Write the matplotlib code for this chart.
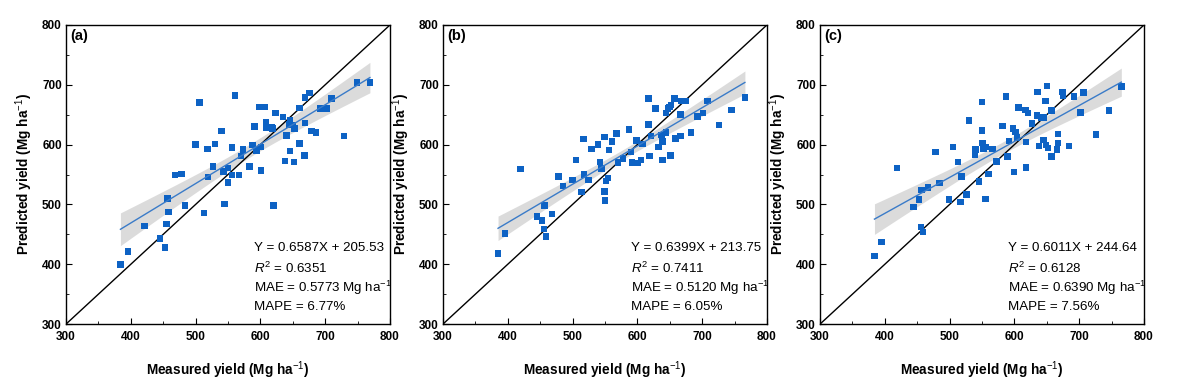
import numpy as np
import matplotlib
matplotlib.use("Agg")
import matplotlib.pyplot as plt
from matplotlib.ticker import MultipleLocator

plt.rcParams['font.family'] = ['Liberation Sans', 'DejaVu Sans']
plt.rcParams['mathtext.fontset'] = 'custom'
plt.rcParams['mathtext.rm'] = 'Liberation Sans'
plt.rcParams['mathtext.it'] = 'Liberation Sans:italic'
plt.rcParams['mathtext.bf'] = 'Liberation Sans:bold'

# measured / predicted yields
meas_a = [384, 396, 421, 445, 453, 455, 458, 457, 484, 468, 478, 513, 519, 527, 543, 545,
          550, 550, 556, 567, 583, 601, 620, 500, 518, 530, 540, 556, 506, 561, 573, 570,
          588, 591, 594, 601, 599, 606, 609, 609, 619, 623, 618, 635, 640, 646, 650, 653,
          646, 638, 652, 660, 660, 668, 669, 669, 676, 679, 686, 693, 702, 710, 729, 749,
          769, 645]
pred_a = [400, 421, 464, 443, 428, 467, 487, 510, 498, 549, 551, 486, 546, 563, 555, 501,
          537, 561, 549, 549, 563, 557, 498, 600, 593, 601, 623, 595, 670, 682, 592, 581,
          599, 630, 590, 596, 663, 663, 629, 637, 627, 653, 629, 646, 615, 641, 633, 627,
          589, 573, 571, 602, 661, 582, 636, 679, 686, 623, 620, 660, 660, 677, 614, 704,
          704, 634]

meas_b = [385, 396, 420, 445, 453, 456, 459, 457, 468, 478, 485, 500, 505, 514, 518, 525,
          517, 529, 539, 542, 545, 549, 549, 550, 552, 555, 556, 561, 568, 570, 578, 587,
          590, 592, 600, 599, 606, 608, 617, 617, 619, 621, 628, 633, 637, 639, 639, 644,
          644, 647, 651, 652, 659, 657, 667, 667, 668, 675, 683, 693, 701, 708, 726, 745,
          766, 650]
pred_b = [418, 451, 559, 480, 473, 459, 446, 498, 484, 547, 531, 541, 574, 521, 550, 541,
          609, 593, 600, 571, 560, 613, 522, 507, 539, 544, 591, 605, 619, 570, 577, 625,
          588, 570, 569, 607, 574, 601, 634, 677, 581, 614, 660, 596, 616, 574, 605, 620,
          653, 660, 582, 666, 610, 677, 614, 650, 673, 673, 620, 647, 653, 673, 633, 658,
          679, 663]

meas_c = [384, 395, 419, 444, 453, 456, 459, 457, 467, 484, 478, 499, 505, 513, 517, 518,
          526, 530, 539, 540, 545, 550, 550, 551, 552, 555, 556, 560, 566, 572, 582, 587,
          589, 592, 599, 598, 602, 604, 606, 617, 618, 618, 621, 627, 635, 638, 636, 641,
          645, 646, 648, 650, 649, 652, 657, 657, 666, 667, 667, 674, 675, 684, 692, 702,
          707, 726, 746, 765]
pred_c = [414, 437, 561, 496, 508, 462, 454, 524, 528, 536, 588, 508, 596, 571, 504, 547,
          517, 640, 583, 592, 538, 671, 624, 603, 593, 509, 596, 551, 593, 572, 631, 680,
          580, 606, 554, 627, 621, 612, 662, 658, 604, 562, 653, 635, 649, 598, 688, 645,
          608, 645, 673, 698, 599, 594, 580, 657, 592, 618, 603, 688, 681, 598, 680, 654,
          687, 617, 657, 697]

slopes = [0.6587, 0.6399, 0.6011]
intercepts = [205.53, 213.75, 244.64]
r2_labels = ["0.6351", "0.7411", "0.6128"]
mae_labels = ["0.5773", "0.5120", "0.6390"]
mape_labels = ["6.77%", "6.05%", "7.56%"]
panel_tags = ["(a)", "(b)", "(c)"]

fig = plt.figure(figsize=(11.85, 3.84), dpi=100)
lefts = [0.0557, 0.3738, 0.692]
width = 0.2734
bottom, height = 0.156, 0.779

data = [(meas_a, pred_a), (meas_b, pred_b), (meas_c, pred_c)]
for i, (mx, py) in enumerate(data):
    ax = fig.add_axes([lefts[i], bottom, width, height])
    x = np.array(mx, float)
    y = np.array(py, float)
    k, b = slopes[i], intercepts[i]

    # confidence band around the fitted line
    n = len(x)
    resid = y - (k * x + b)
    s = np.sqrt(np.sum(resid ** 2) / (n - 2))
    xs = np.linspace(x.min(), x.max(), 100)
    se = s * np.sqrt(1 / n + (xs - x.mean()) ** 2 / np.sum((x - x.mean()) ** 2))
    fit = k * xs + b
    ax.fill_between(xs, fit - 1.99 * se, fit + 1.99 * se, color='#c4c4c4', alpha=0.6,
                    lw=0, zorder=1)

    ax.plot([300, 800], [300, 800], color='black', lw=1.0, zorder=2)
    ax.scatter(x, y, marker='s', s=22, color='#0d62c4', edgecolors='none', zorder=3)
    ax.plot(xs, fit, color='#3a7bc8', lw=1.0, zorder=4)

    ax.set_xlim(300, 800)
    ax.set_ylim(300, 800)
    ax.xaxis.set_major_locator(MultipleLocator(100))
    ax.yaxis.set_major_locator(MultipleLocator(100))
    ax.xaxis.set_minor_locator(MultipleLocator(50))
    ax.yaxis.set_minor_locator(MultipleLocator(50))
    ax.tick_params(which='both', direction='in', top=False, right=False)
    ax.tick_params(which='major', length=4, labelsize=8.5)
    ax.tick_params(axis='x', which='major', pad=5)
    ax.tick_params(axis='y', which='major', pad=3)
    ax.tick_params(which='minor', length=2)
    for lab in ax.get_xticklabels() + ax.get_yticklabels():
        lab.set_fontweight('bold')
    for sp in ax.spines.values():
        sp.set_linewidth(1.0)

    ax.text(0.012, 0.985, panel_tags[i], transform=ax.transAxes, ha='left', va='top',
            fontsize=10.5, fontweight='bold')

    tx = 0.58
    fs = 9.6
    ax.text(tx, 0.254, "Y = %.4fX + %.2f" % (k, b), transform=ax.transAxes,
            ha='left', va='center', fontsize=fs)
    ax.text(tx, 0.187, "$\\mathit{R}^2$ = " + r2_labels[i], transform=ax.transAxes,
            ha='left', va='center', fontsize=fs)
    ax.text(tx, 0.122, "MAE = " + mae_labels[i] + " Mg ha$^{-1}$", transform=ax.transAxes,
            ha='left', va='center', fontsize=fs)
    ax.text(tx, 0.058, "MAPE = " + mape_labels[i], transform=ax.transAxes,
            ha='left', va='center', fontsize=fs)

    ax.set_xlabel("Measured yield (Mg ha$^{-1}$)", fontsize=9.8, fontweight='bold',
                  labelpad=12)
    ax.set_ylabel("Predicted yield (Mg ha$^{-1}$)", fontsize=9.8, fontweight='bold',
                  labelpad=5)

fig.savefig("out.png", dpi=100)
